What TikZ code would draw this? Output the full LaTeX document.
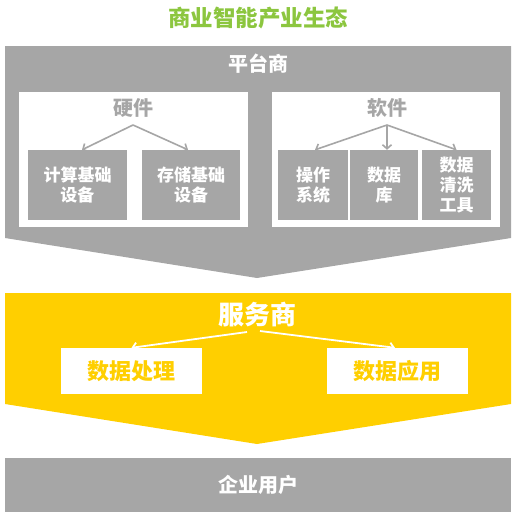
\documentclass[tikz,border=0pt]{standalone}
\usepackage{fontspec}
\setmainfont{Noto Sans CJK SC}
\usetikzlibrary{arrows.meta}
\definecolor{gr}{HTML}{A6A6A6}
\definecolor{yl}{HTML}{FFCF00}
\definecolor{gn}{HTML}{8CC63F}
\tikzset{
  lbl/.style={inner sep=0pt, font=\bfseries\fontsize{20}{22}\selectfont},
  gbox/.style={fill=gr, text=white, inner sep=0pt, align=center, font=\bfseries\fontsize{17}{20}\selectfont},
  ybox/.style={fill=white, text=yl, inner sep=0pt, align=center, minimum width=141pt, minimum height=46pt, font=\bfseries\fontsize{22}{24}\selectfont},
  garr/.style={draw=gr, line width=1.6pt, -{Straight Barb[length=4pt,width=9pt]}},
  warr/.style={draw=white, line width=1.8pt, -{Straight Barb[length=4pt,width=9pt]}},
}
\begin{document}
\begin{tikzpicture}[x=1pt,y=-1pt]
\useasboundingbox (0,0) rectangle (515,517);
% title
\node[lbl, text=gn, font=\bfseries\fontsize{22.5}{24}\selectfont] (title) at (258,18) {商业智能产业生态};
% platform pentagon
\fill[gr] (5,46) -- (511,46) -- (511,238) -- (257,278) -- (5,238) -- cycle;
\node[lbl, text=white] (plat) at (258,64) {平台商};
% white panels
\node[fill=white, inner sep=0pt, minimum width=229pt, minimum height=135pt] (hwpanel) at (133.5,159.5) {};
\node[fill=white, inner sep=0pt, minimum width=228pt, minimum height=135pt] (swpanel) at (386,159.5) {};
\node[lbl, text=gr] (hw) at (133,108) {硬件};
\node[lbl, text=gr] (sw) at (387,108) {软件};
% hardware boxes
\node[gbox, minimum width=99pt, minimum height=70pt] (b1) at (77.5,185) {计算基础\\设备};
\node[gbox, minimum width=98pt, minimum height=70pt] (b2) at (191,185) {存储基础\\设备};
% software boxes
\node[gbox, minimum width=70pt, minimum height=70pt] (s1) at (313,185) {操作\\系统};
\node[gbox, minimum width=68pt, minimum height=70pt] (s2) at (384,185) {数据\\库};
\node[gbox, minimum width=69pt, minimum height=70pt] (s3) at (456.5,185) {数据\\清洗\\工具};
\coordinate (hwsrc) at (133,125);
\coordinate (swsrc) at (387,125);
\draw[garr] (hwsrc) -- ([xshift=4.5pt]b1.north);
\draw[garr] (hwsrc) -- ([xshift=-3pt]b2.north);
\draw[garr] (swsrc) -- ([xshift=2pt]s1.north);
\draw[garr] (swsrc) -- ([xshift=3pt]s2.north);
\draw[garr] (swsrc) -- (s3.north);
% service pentagon
\fill[yl] (5,293) -- (511,293) -- (511,404) -- (257,444) -- (5,404) -- cycle;
\node[lbl, text=white, font=\bfseries\fontsize{26}{28}\selectfont] (svc) at (257,315) {服务商};
\node[ybox] (y1) at (131.5,371) {数据处理};
\node[ybox] (y2) at (397.5,371) {数据应用};
\coordinate (ysrcl) at (247,332);
\coordinate (ysrcr) at (260,331);
\draw[warr] (ysrcl) -- (y1.north);
\draw[warr] (ysrcr) -- ([xshift=-2.5pt]y2.north);
% enterprise bar
\node[fill=gr, text=white, inner sep=0pt, minimum width=506pt, minimum height=54pt, font=\bfseries\fontsize{20}{22}\selectfont] (ent) at (258,485) {企业用户};
\end{tikzpicture}
\end{document}
